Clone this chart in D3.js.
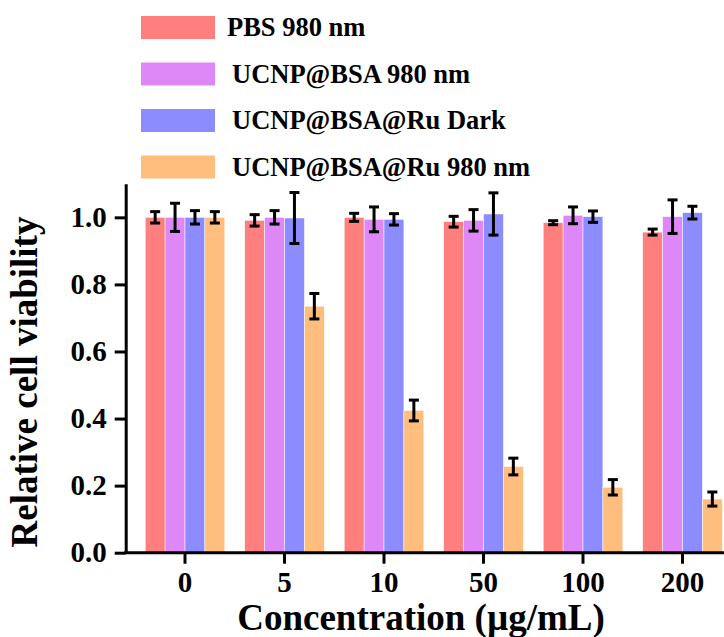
<!DOCTYPE html>
<html>
<head>
<meta charset="utf-8">
<script src="https://cdn.jsdelivr.net/npm/d3@7"></script>
<style>
  body { margin: 0; background: #fff; }
  text { font-family: "Liberation Serif", "Times New Roman", serif; font-weight: bold; }
</style>
</head>
<body>
<div id="chart"></div>
<script>
let screen = {width: 724, height: 637};
let fontName = "'Liberation Serif', 'Times New Roman', serif";

// data
let categories = ["0", "5", "10", "50", "100", "200"];
let seriesNames = ["PBS 980 nm", "UCNP@BSA 980 nm", "UCNP@BSA@Ru Dark", "UCNP@BSA@Ru 980 nm"];
let seriesColors = ["#ff7f7f", "#dd88f6", "#8c8cff", "#ffbe7e"];
let pbsMean = [1.00, 0.991, 1.00, 0.987, 0.984, 0.956];
let pbsErr = [0.017, 0.017, 0.012, 0.016, 0.006, 0.009];
let bsaMean = [1.00, 1.00, 0.994, 0.991, 1.006, 1.002];
let bsaErr = [0.042, 0.02, 0.037, 0.032, 0.025, 0.05];
let ruDarkMean = [1.00, 0.998, 0.994, 1.010, 1.002, 1.014];
let ruDarkErr = [0.02, 0.076, 0.017, 0.063, 0.017, 0.019];
let ruLightMean = [1.00, 0.735, 0.424, 0.257, 0.195, 0.160];
let ruLightErr = [0.017, 0.038, 0.031, 0.025, 0.023, 0.021];
let yTicks = [0, 0.2, 0.4, 0.6, 0.8, 1.0];

let means = [pbsMean, bsaMean, ruDarkMean, ruLightMean];
let errs = [pbsErr, bsaErr, ruDarkErr, ruLightErr];

let rows = [];
categories.forEach(function(c, i) {
    seriesNames.forEach(function(s, j) {
        rows.push({cat: c, series: s, idx: j, mean: means[j][i], err: errs[j][i]});
    });
});

let svg = d3.select("#chart").append("svg")
    .attr("width", screen.width)
    .attr("height", screen.height)
    .attr("font-family", fontName)
    .attr("font-weight", "bold");

let axisX = 125.7, axisY = 552.7;
let step = 99.5, center0 = 185;

let y = d3.scaleLinear().domain([0, 1.1]).range([axisY, 183.8]);
let x0 = d3.scaleBand().domain(categories)
    .range([center0 - step / 2, center0 + step * 5.5])
    .paddingInner(0.2).paddingOuter(0.1);
let x1 = d3.scaleBand().domain(seriesNames).range([0, x0.bandwidth()]);
let color = d3.scaleOrdinal().domain(seriesNames).range(seriesColors);

// bars
svg.append("g").selectAll("rect")
    .data(rows)
    .enter()
    .append("rect")
    .attr("x", d => x0(d.cat) + x1(d.series))
    .attr("y", d => y(d.mean))
    .attr("width", x1.bandwidth())
    .attr("height", d => axisY - y(d.mean))
    .attr("fill", d => color(d.series))
    .attr("stroke", "#fff")
    .attr("stroke-width", 0.5);

// error bars
let eb = svg.append("g").attr("stroke", "#000").attr("stroke-width", 3).attr("fill", "none");
let cx = d => x0(d.cat) + x1(d.series) + x1.bandwidth() / 2;
eb.selectAll("line.v").data(rows).enter().append("line")
    .attr("x1", cx).attr("x2", cx)
    .attr("y1", d => y(d.mean + d.err)).attr("y2", d => y(d.mean - d.err));
eb.selectAll("line.t").data(rows).enter().append("line")
    .attr("x1", d => cx(d) - 5).attr("x2", d => cx(d) + 5)
    .attr("y1", d => y(d.mean + d.err)).attr("y2", d => y(d.mean + d.err));
eb.selectAll("line.b").data(rows).enter().append("line")
    .attr("x1", d => cx(d) - 5).attr("x2", d => cx(d) + 5)
    .attr("y1", d => y(d.mean - d.err)).attr("y2", d => y(d.mean - d.err));

// y axis
let yAxis = svg.append("g")
    .attr("transform", "translate(" + axisX + ",0)")
    .call(d3.axisLeft(y).tickValues(yTicks).tickFormat(d3.format(".1f"))
        .tickSize(11).tickSizeOuter(0).tickPadding(8));
yAxis.attr("font-family", fontName).attr("font-size", 29);
yAxis.select(".domain").attr("stroke-width", 3);
yAxis.selectAll(".tick line").attr("stroke-width", 3);
yAxis.selectAll(".tick text").attr("fill", "#000");

// x axis
let xAxis = svg.append("g")
    .attr("transform", "translate(0," + axisY + ")")
    .call(d3.axisBottom(x0).tickSize(11).tickSizeOuter(0));
xAxis.attr("font-family", fontName).attr("font-size", 29);
xAxis.select(".domain").remove();
xAxis.selectAll(".tick line").attr("stroke-width", 3);
xAxis.selectAll(".tick text").attr("fill", "#000").attr("dy", null).attr("y", 39.5);
svg.append("line")
    .attr("x1", axisX - 1.5).attr("x2", screen.width)
    .attr("y1", axisY).attr("y2", axisY)
    .attr("stroke", "#000").attr("stroke-width", 3);

// axis titles
svg.append("text")
    .attr("transform", "translate(37,382) rotate(-90)")
    .attr("text-anchor", "middle")
    .attr("font-size", 37)
    .text("Relative cell viability");
svg.append("text")
    .attr("x", 421).attr("y", 630)
    .attr("text-anchor", "middle")
    .attr("font-size", 37)
    .text("Concentration (\u00b5g/mL)");

// legend
let legend = svg.append("g").selectAll("g")
    .data(seriesNames)
    .enter().append("g")
    .attr("transform", (d, i) => "translate(141," + (16 + i * 46.5) + ")");
legend.append("rect")
    .attr("width", 74).attr("height", 23)
    .attr("fill", d => color(d));
legend.append("text")
    .attr("x", (d, i) => 86 + (i > 0 ? 5 : 0))
    .attr("y", 20)
    .attr("font-size", 26.5)
    .text(d => d);
</script>
</body>
</html>
